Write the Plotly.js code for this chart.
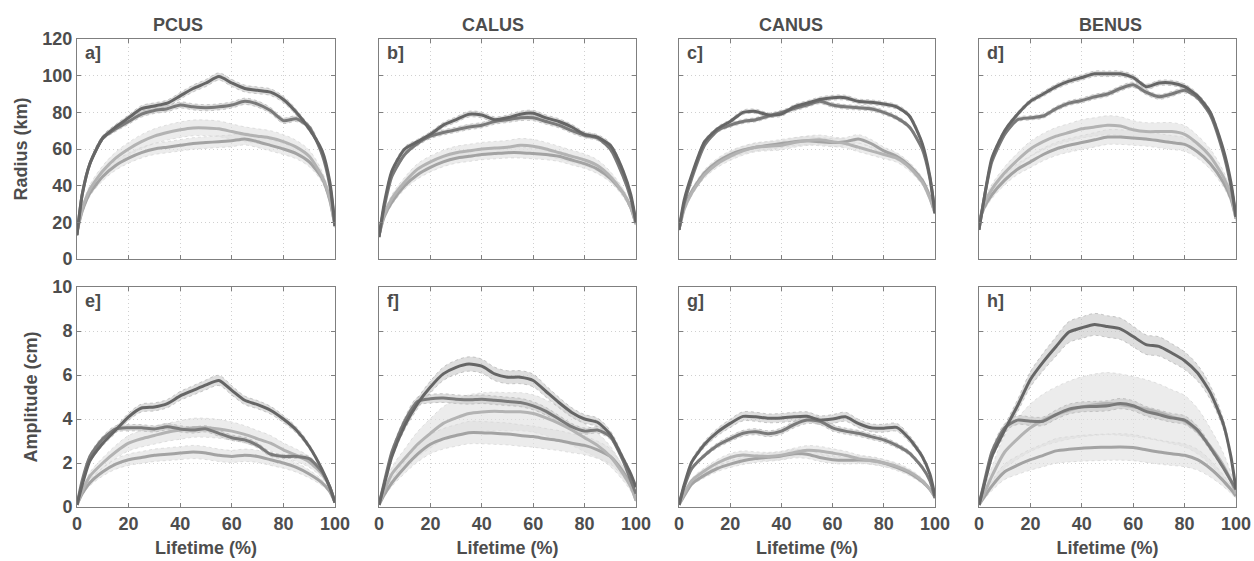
<!DOCTYPE html>
<html>
<head>
<meta charset="utf-8">
<script src="https://cdn.plot.ly/plotly-3.0.1.min.js"></script>
<style>html,body{margin:0;padding:0;background:#fff;}#chart{width:1254px;height:561px;}</style>
</head>
<body>
<div id="chart"></div>
<script>
// Lifetime (%) sample positions
const lifetime = [0,2,5,10,15,20,25,30,35,40,45,50,55,60,65,70,75,80,85,90,95,98,100];

// Column / region names and panel labels
const regions = ['PCUS','CALUS','CANUS','BENUS'];
const panelLabels = ['a]','b]','c]','d]','e]','f]','g]','h]'];
const xTicks = [0,20,40,60,80,100];
const radiusTicks = [0,20,40,60,80,100,120];
const ampTicks = [0,2,4,6,8,10];

// ---- Radius (km) ----
const pcusRadDark1  = [13,35,52,66,72,77,82,83.5,85,89,93,96,99.5,96,93,92,91,87,80,71,59,42,18];
const pcusRadDark2  = [13,35,52,66,71,75,79,81,82,84,83,82.5,83,84,86,84.5,81,75.5,76.5,72,57,40,18];
const pcusRadLight1 = [15,27,38,48,55,60,64,67,69,70.5,71.5,71.5,71,69.5,68,67,66,64,61,56,45,33,18];
const pcusRadLight2 = [15,26,36,45,51,55,58,60,61,62,63,63.5,64,64.5,65.5,64,62,60,57.5,53,44,32,18];

const calusRadDark1  = [12,30,48,60,64,68,73,76,79,78.5,76,77,79,79.5,77,75,72,68,66.5,62,48,35,20];
const calusRadDark2  = [12,28,45,57,63,67,69,70.5,72,73,75,76,77,77,75,73,70,67.5,66,60,45,33,20];
const calusRadLight1 = [13,24,33,42,49,53,56,58,59,60,60.5,61,62,61.5,60,58,56,54,51,45,36,28,19];
const calusRadLight2 = [13,23,31,40,46,50,53,55,56,57,57.5,58,58,57.5,57,56,54,52,49,44,36,28,19];

const canusRadDark1  = [16,32,46,64,71,75,80,80.5,78.5,79,83,85,87,88,88,86,85.5,84.5,83,78,63,45,25];
const canusRadDark2  = [16,30,44,62,70,73,75,76,78,80,82,84,86,84,83,82.5,82,80,77,72,60,44,25];
const canusRadLight1 = [16,27,36,46,52,56,59,61,61.5,62,63.5,64.5,65,64,63,61,59,57,55,50,42,33,25];
const canusRadLight2 = [16,28,37,47,53,57,59.5,61,62,63,64,64.5,64,63.5,64,65.5,63,59,56,51,43,34,25];

const benusRadDark1  = [16,33,55,70,79,86,90,94,97,99,101,101,101,99,94,96,96,94,89,80,60,42,23];
const benusRadDark2  = [16,33,53,68,76,77,78,82,85,86.5,88.5,90,93,95,91,88.5,90,92,88,78.5,58,40,23];
const benusRadLight1 = [20,30,38,47,54,60,64,67,69,71,72,73,72.5,70.5,69.5,69.5,69.5,68,63,56,45,35,22];
const benusRadLight2 = [20,28,35,43,49,53,57,60,62,63.5,65,66.5,66.5,66,65.5,64.5,63.5,62.5,58.5,52,42,33,22];

// ---- Amplitude (cm) ----
const pcusAmpDark1  = [0.1,1.0,2.1,2.9,3.5,4.1,4.5,4.55,4.7,5.05,5.3,5.55,5.75,5.3,4.85,4.65,4.4,4.0,3.5,2.75,1.7,0.9,0.2];
const pcusAmpDark2  = [0.1,1.2,2.3,3.1,3.55,3.6,3.6,3.55,3.65,3.55,3.5,3.55,3.35,3.15,3.05,2.8,2.4,2.3,2.3,2.2,1.6,0.9,0.2];
const pcusAmpLight1 = [0.1,0.7,1.4,2.0,2.5,2.9,3.1,3.25,3.4,3.5,3.6,3.6,3.55,3.45,3.3,3.1,2.9,2.6,2.35,2.05,1.5,0.9,0.2];
const pcusAmpLight2 = [0.1,0.6,1.1,1.6,1.95,2.15,2.25,2.35,2.4,2.45,2.5,2.45,2.35,2.3,2.35,2.3,2.15,2.0,1.8,1.5,1.1,0.7,0.2];

const calusAmpDark1  = [0.1,1.0,2.3,3.7,4.7,5.45,6.05,6.35,6.5,6.4,6.05,5.9,5.9,5.75,5.25,4.75,4.3,4.0,3.85,3.3,2.2,1.5,0.9];
const calusAmpDark2  = [0.1,1.1,2.5,3.9,4.8,4.92,4.95,4.9,4.87,4.9,4.85,4.8,4.75,4.6,4.35,4.0,3.65,3.45,3.5,3.2,2.1,1.2,0.6];
const calusAmpLight1 = [0.1,0.7,1.5,2.2,2.85,3.35,3.8,4.05,4.25,4.32,4.35,4.33,4.33,4.25,4.05,3.8,3.5,3.15,2.8,2.3,1.5,0.9,0.3];
const calusAmpLight2 = [0.1,0.55,1.1,1.8,2.4,2.85,3.1,3.25,3.38,3.38,3.35,3.32,3.25,3.2,3.1,3.02,2.9,2.8,2.6,2.3,1.6,1.0,0.3];

const canusAmpDark1  = [0.1,1.0,2.05,2.85,3.4,3.8,4.12,4.1,4.03,4.05,4.1,4.12,3.95,4.0,4.1,3.8,3.6,3.58,3.62,3.1,2.3,1.5,0.5];
const canusAmpDark2  = [0.1,0.9,1.75,2.35,2.8,3.1,3.35,3.42,3.33,3.45,3.75,3.95,3.9,3.6,3.45,3.35,3.2,3.05,2.8,2.45,1.8,1.2,0.4];
const canusAmpLight1 = [0.1,0.6,1.2,1.65,2.0,2.25,2.36,2.32,2.3,2.35,2.48,2.58,2.55,2.45,2.35,2.2,2.1,2.0,1.85,1.6,1.2,0.8,0.45];
const canusAmpLight2 = [0.1,0.5,1.05,1.45,1.75,1.95,2.1,2.2,2.26,2.32,2.42,2.4,2.25,2.15,2.12,2.14,2.12,2.0,1.8,1.55,1.15,0.8,0.45];

const benusAmpDark1  = [0.1,1.0,2.3,3.5,4.6,5.8,6.6,7.3,7.95,8.15,8.3,8.2,8.1,7.75,7.38,7.3,7.0,6.65,6.1,5.2,3.8,2.3,0.8];
const benusAmpDark2  = [0.1,1.1,2.5,3.6,3.95,3.9,3.9,4.2,4.45,4.55,4.57,4.6,4.7,4.6,4.35,4.2,4.05,3.95,3.5,2.7,1.8,1.2,0.8];
const benusAmpLight1 = [0.1,0.6,1.4,2.5,3.1,3.6,3.95,4.2,4.4,4.55,4.65,4.7,4.65,4.56,4.45,4.3,4.1,3.9,3.45,2.75,1.9,1.2,0.6];
const benusAmpLight2 = [0.1,0.45,0.95,1.6,1.9,2.15,2.35,2.55,2.62,2.67,2.7,2.72,2.73,2.7,2.6,2.5,2.42,2.35,2.15,1.75,1.2,0.8,0.5];

// Relative half-width of the shaded spread band for each series
const bandRel = {
  a:[0.02,0.02,0.06,0.05], b:[0.02,0.02,0.06,0.05], c:[0.015,0.015,0.04,0.035], d:[0.015,0.015,0.07,0.06],
  e:[0.04,0.04,0.12,0.12], f:[0.05,0.04,0.2,0.15], g:[0.05,0.04,0.08,0.08], h:[0.06,0.05,0.3,0.22]
};

const panels = [
  {key:'a', series:[pcusRadDark1,pcusRadDark2,pcusRadLight1,pcusRadLight2]},
  {key:'b', series:[calusRadDark1,calusRadDark2,calusRadLight1,calusRadLight2]},
  {key:'c', series:[canusRadDark1,canusRadDark2,canusRadLight1,canusRadLight2]},
  {key:'d', series:[benusRadDark1,benusRadDark2,benusRadLight1,benusRadLight2]},
  {key:'e', series:[pcusAmpDark1,pcusAmpDark2,pcusAmpLight1,pcusAmpLight2]},
  {key:'f', series:[calusAmpDark1,calusAmpDark2,calusAmpLight1,calusAmpLight2]},
  {key:'g', series:[canusAmpDark1,canusAmpDark2,canusAmpLight1,canusAmpLight2]},
  {key:'h', series:[benusAmpDark1,benusAmpDark2,benusAmpLight1,benusAmpLight2]}
];

const lineColors = ['#666666','#7a7a7a','#b3b3b3','#a3a3a3'];
const bandFill   = ['rgba(195,195,195,0.55)','rgba(195,195,195,0.55)','rgba(224,224,224,0.6)','rgba(224,224,224,0.6)'];
const bandEdge   = ['rgba(180,180,180,0.7)','rgba(180,180,180,0.7)','rgba(212,212,212,0.7)','rgba(212,212,212,0.7)'];

const FONT = 'Liberation Sans, Arial, sans-serif';
const TXT = '#4d4d4d';
const FS = 18;
const xDomains = [[77,335],[379,636],[679,935],[979,1236]].map(d=>[d[0]/1254,d[1]/1254]);
const yDomains = [[1-259/561,1-39/561],[1-507/561,1-287/561]];

const traces = [];
const layout = {
  width:1254, height:561, margin:{l:0,r:0,t:0,b:0},
  paper_bgcolor:'#fff', plot_bgcolor:'#fff', showlegend:false,
  font:{family:FONT, color:TXT, size:FS, weight:'bold'},
  annotations:[]
};

panels.forEach((p,i)=>{
  const n = i+1;
  const xa = n===1 ? 'x' : 'x'+n;
  const ya = n===1 ? 'y' : 'y'+n;
  const col = i%4, row = Math.floor(i/4);
  const rel = bandRel[p.key];
  [2,3,0,1].forEach(s=>{
    const v = p.series[s];
    const up = v.map(y=>y*(1+rel[s]));
    const lo = v.map(y=>y*(1-rel[s]));
    traces.push({x:lifetime, y:up, xaxis:xa, yaxis:ya, mode:'lines', type:'scatter',
      line:{width:1, color:bandEdge[s], dash:'dot', shape:'spline'}, hoverinfo:'skip'});
    traces.push({x:lifetime, y:lo, xaxis:xa, yaxis:ya, mode:'lines', type:'scatter', fill:'tonexty',
      fillcolor:bandFill[s], line:{width:1, color:bandEdge[s], dash:'dot', shape:'spline'}, hoverinfo:'skip'});
  });
  [3,2,1,0].forEach(s=>{
    traces.push({x:lifetime, y:p.series[s], xaxis:xa, yaxis:ya, mode:'lines', type:'scatter',
      line:{width:3, color:lineColors[s], shape:'spline', smoothing:0.6}});
  });
  const axCommon = {showline:true, linecolor:'#7f7f7f', linewidth:1, mirror:'ticks', ticks:'inside', ticklen:4,
    tickcolor:'#7f7f7f', showgrid:true, gridcolor:'#d0d0d0', griddash:'1px,3px', gridwidth:1, zeroline:false,
    tickfont:{family:FONT, size:FS, color:TXT, weight:'bold'}};
  layout['xaxis'+(n===1?'':n)] = Object.assign({}, axCommon, {
    domain:xDomains[col], anchor:ya, range:[0,100], tickvals:xTicks, ticktext:xTicks.map(String),
    showticklabels: row===1,
    title: row===1 ? {text:'Lifetime (%)', font:{family:FONT,size:FS,color:TXT,weight:'bold'}, standoff:8} : {text:''}
  });
  const yt = row===0 ? radiusTicks : ampTicks;
  layout['yaxis'+(n===1?'':n)] = Object.assign({}, axCommon, {
    domain:yDomains[row], anchor:xa, range: row===0 ? [0,120] : [0,10], tickvals:yt, ticktext:yt.map(String),
    showticklabels: col===0,
    title: col===0 ? {text: row===0 ? 'Radius (km)' : 'Amplitude (cm)', font:{family:FONT,size:FS,color:TXT,weight:'bold'}, standoff:10} : {text:''}
  });
  layout.annotations.push({text:panelLabels[i], xref:xa+' domain', yref:ya+' domain', x:0.022, y:1, xanchor:'left', yanchor:'top',
    yshift:-2, showarrow:false, font:{family:FONT, size:FS, color:TXT, weight:'bold'}});
});

const titleX = [178,493,791,1110];
regions.forEach((r,i)=>{
  layout.annotations.push({text:r, xref:'paper', yref:'paper', x:titleX[i]/1254, y:1-25/561, xanchor:'center', yanchor:'middle',
    showarrow:false, font:{family:FONT, size:FS, color:TXT, weight:'bold'}});
});

Plotly.newPlot('chart', traces, layout, {staticPlot:true});
</script>
</body>
</html>
